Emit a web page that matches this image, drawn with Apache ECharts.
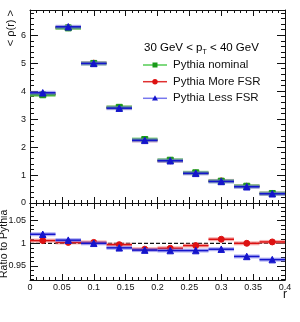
<!DOCTYPE html>
<html>
<head>
<meta charset="utf-8">
<script src="https://cdn.jsdelivr.net/npm/echarts@6/dist/echarts.min.js"></script>
<style>html,body{margin:0;padding:0;background:#fff}#c{width:300px;height:322px}</style>
</head>
<body>
<div id="c"></div>
<script>
// ---- data ----
const binEdges = [0, 0.04, 0.08, 0.12, 0.16, 0.20, 0.24, 0.28, 0.32, 0.36, 0.40];
const binCenters = [0.02, 0.06, 0.10, 0.14, 0.18, 0.22, 0.26, 0.30, 0.34, 0.38];
const nominal = [3.87, 6.26, 4.99, 3.42, 2.27, 1.53, 1.08, 0.78, 0.60, 0.34];
const moreFSR = [3.89, 6.27, 5.00, 3.41, 2.24, 1.51, 1.07, 0.79, 0.60, 0.34];
const lessFSR = [3.94, 6.30, 4.99, 3.39, 2.24, 1.51, 1.06, 0.77, 0.58, 0.33];
const moreRatio = [1.006, 1.002, 1.002, 0.997, 0.987, 0.989, 0.995, 1.009, 1.000, 1.003];
const lessRatio = [1.020, 1.007, 1.000, 0.990, 0.985, 0.984, 0.984, 0.987, 0.971, 0.964];
const legendNames = ['Pythia nominal', 'Pythia More FSR', 'Pythia Less FSR'];

const GREEN = '#1a9a1a', GREEN_L = 'rgba(90,200,90,0.75)';
const RED = '#dd1111', RED_L = 'rgba(240,120,120,0.6)';
const BLUE = '#1515cc', BLUE_L = 'rgba(120,120,235,0.6)';
const FONT = 'Liberation Sans, Arial, Helvetica, sans-serif';

const chart = echarts.init(document.getElementById('c'), null, {renderer: 'canvas'});

function binSeries(name, xi, yi, vals, color, light, z) {
  return {
    type: 'custom', name: name, xAxisIndex: xi, yAxisIndex: yi, z: z,
    data: binCenters.map((c, i) => [binEdges[i], binEdges[i + 1], vals[i]]),
    encode: {x: [0, 1], y: 2},
    renderItem: function (params, api) {
      const p0 = api.coord([api.value(0), api.value(2)]);
      const p1 = api.coord([api.value(1), api.value(2)]);
      return {type: 'group', children: [
        {type: 'rect', shape: {x: p0[0], y: p0[1] - 2, width: p1[0] - p0[0], height: 4}, style: {fill: light}},
        {type: 'line', shape: {x1: p0[0], y1: p0[1], x2: p1[0], y2: p1[1]}, style: {stroke: color, lineWidth: 1.5}}
      ]};
    }
  };
}
function markSeries(name, xi, yi, vals, color, symbol, size, z) {
  return {
    type: 'scatter', name: name, xAxisIndex: xi, yAxisIndex: yi, z: z,
    symbol: symbol, symbolSize: size,
    itemStyle: {color: color, borderColor: color, opacity: 1},
    data: binCenters.map((c, i) => [c, vals[i]]),
    silent: true
  };
}

const tickCommon = (len) => ({show: true, inside: true, length: len, lineStyle: {color: '#111', width: 1}});
const minorCommon = (len) => ({show: true, splitNumber: 5, length: len, lineStyle: {color: '#111', width: 1}});
const lineCommon = {show: true, onZero: false, lineStyle: {color: '#111', width: 1}};

function xAx(grid, pos, labels) {
  return {
    type: 'value', gridIndex: grid, position: pos, min: 0, max: 0.4, interval: 0.05,
    axisLine: lineCommon, axisTick: tickCommon(6), minorTick: minorCommon(3),
    splitLine: {show: false},
    axisLabel: labels ? {show: true, fontFamily: FONT, fontSize: 9, color: '#111', margin: 3,
      showMaxLabel: true, formatter: v => String(+v.toFixed(2))} : {show: false}
  };
}
function yAx(grid, pos, min, max, extra, labels) {
  return Object.assign({
    type: 'value', gridIndex: grid, position: pos, min: min, max: max,
    axisLine: lineCommon, axisTick: tickCommon(8), minorTick: minorCommon(4), splitLine: {show: false},
    axisLabel: labels ? {show: true, fontFamily: FONT, fontSize: 9, color: '#111', margin: 4,
      showMaxLabel: false, showMinLabel: grid === 0} : {show: false}
  }, extra);
}

const option = {
  animation: false,
  grid: [
    {left: 30, top: 10, width: 255, height: 193},
    {left: 30, top: 203, width: 255, height: 77}
  ],
  xAxis: [
    xAx(0, 'bottom', false), xAx(0, 'top', false),
    xAx(1, 'bottom', true), xAx(1, 'top', false)
  ],
  yAxis: [
    yAx(0, 'left', 0, 6.9, {interval: 1}, true),
    yAx(0, 'right', 0, 6.9, {interval: 1}, false),
    yAx(1, 'left', 0.919, 1.089, {splitNumber: 3}, true),
    yAx(1, 'right', 0.919, 1.089, {splitNumber: 3}, false)
  ],
  series: [
    binSeries(legendNames[1], 0, 0, moreFSR, RED, RED_L, 2),
    markSeries(legendNames[1], 0, 0, moreFSR, RED, 'circle', 6, 3),
    binSeries(legendNames[0], 0, 0, nominal, GREEN, GREEN_L, 4),
    markSeries(legendNames[0], 0, 0, nominal, GREEN, 'rect', 6, 5),
    binSeries(legendNames[2], 0, 0, lessFSR, BLUE, BLUE_L, 6),
    markSeries(legendNames[2], 0, 0, lessFSR, BLUE, 'triangle', 6.5, 7),
    {type: 'line', xAxisIndex: 2, yAxisIndex: 2, data: [[0, 1], [0.4, 1]], symbol: 'none', z: 1,
      lineStyle: {color: '#111', width: 1.3, type: [4, 2]}},
    binSeries(legendNames[1], 2, 2, moreRatio, RED, RED_L, 2),
    markSeries(legendNames[1], 2, 2, moreRatio, RED, 'circle', 6, 3),
    binSeries(legendNames[2], 2, 2, lessRatio, BLUE, BLUE_L, 4),
    markSeries(legendNames[2], 2, 2, lessRatio, BLUE, 'triangle', 6.5, 5)
  ],
  graphic: [
    {type: 'text', x: 5, y: 10, rotation: Math.PI / 2,
      style: {text: '< \u03c1(r) >', font: '11px ' + FONT, fill: '#111', textAlign: 'right', textVerticalAlign: 'top'}},
    {type: 'text', x: -1, y: 278, rotation: Math.PI / 2,
      style: {text: 'Ratio to Pythia', font: '10.5px ' + FONT, fill: '#111', textVerticalAlign: 'top'}},
    {type: 'text', x: 285, y: 289,
      style: {text: 'r', font: '12px ' + FONT, fill: '#111', textAlign: 'center'}},
    {type: 'text', x: 144, y: 48,
      style: {text: '{a|30 GeV < p}{s|T}{a| < 40 GeV}', textVerticalAlign: 'middle',
        rich: {a: {fontSize: 11.5, fontFamily: FONT, color: '#111'},
               s: {fontSize: 7, fontFamily: FONT, color: '#111', padding: [9, 0, 0, 0]}}}},
    // legend entries
    {type: 'line', shape: {x1: 143, y1: 65, x2: 167, y2: 65}, style: {stroke: '#55cc55', lineWidth: 1.5}},
    {type: 'rect', shape: {x: 152.5, y: 62.5, width: 5, height: 5}, style: {fill: GREEN}},
    {type: 'text', x: 173, y: 65, style: {text: legendNames[0], font: '11.5px ' + FONT, fill: '#111', textVerticalAlign: 'middle'}},
    {type: 'line', shape: {x1: 143, y1: 81.7, x2: 167, y2: 81.7}, style: {stroke: '#e03030', lineWidth: 1.5}},
    {type: 'circle', shape: {cx: 155, cy: 81.7, r: 2.7}, style: {fill: RED}},
    {type: 'text', x: 173, y: 81.7, style: {text: legendNames[1], font: '11.5px ' + FONT, fill: '#111', textVerticalAlign: 'middle'}},
    {type: 'line', shape: {x1: 143, y1: 98.3, x2: 167, y2: 98.3}, style: {stroke: '#7777ee', lineWidth: 1.5}},
    {type: 'polygon', shape: {points: [[155, 95.3], [158, 100.5], [152, 100.5]]}, style: {fill: BLUE}},
    {type: 'text', x: 173, y: 98.3, style: {text: legendNames[2], font: '11.5px ' + FONT, fill: '#111', textVerticalAlign: 'middle'}}
  ]
};
chart.setOption(option);
</script>
</body>
</html>
